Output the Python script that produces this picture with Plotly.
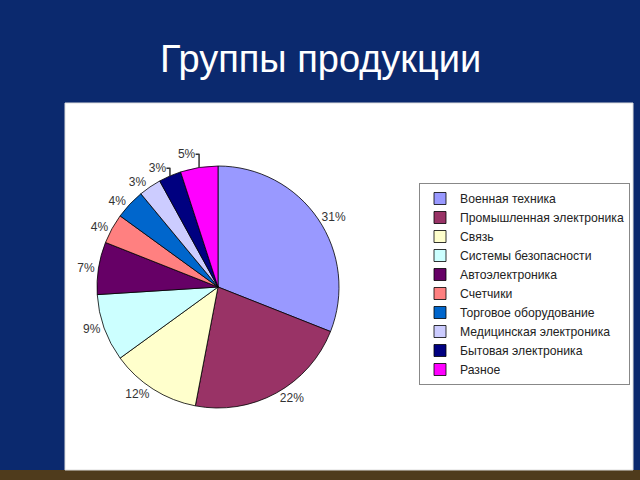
import plotly.graph_objects as go

categories = ["Военная техника", "Промышленная электроника", "Связь", "Системы безопасности",
              "Автоэлектроника", "Счетчики", "Торговое оборудование", "Медицинская электроника",
              "Бытовая электроника", "Разное"]
values = [31, 22, 12, 9, 7, 4, 4, 3, 3, 5]
colors = ["#9999FF", "#993366", "#FFFFCC", "#CCFFFF", "#660066", "#FF8080", "#0066CC",
          "#CCCCFF", "#000080", "#FF00FF"]

W, H = 640, 480
cx, cy, r = 218, 287, 121

fig = go.Figure(go.Pie(
    labels=categories, values=values, sort=False, direction="clockwise", rotation=0,
    marker=dict(colors=colors, line=dict(color="#000000", width=0.8)),
    texttemplate="%{value}%", textposition="outside",
    textfont=dict(family="Liberation Sans, Arial, sans-serif", size=12, color="#333333"),
    domain=dict(x=[(cx - r) / W, (cx + r) / W], y=[(H - cy - r) / H, (H - cy + r) / H]),
    automargin=False,
))

fig.update_layout(
    width=W, height=H, margin=dict(l=0, r=0, t=0, b=0, autoexpand=False),
    paper_bgcolor="#0b296e", plot_bgcolor="#0b296e",
    showlegend=True,
    legend=dict(x=419 / W, y=1 - 183 / H, xanchor="left", yanchor="top",
                bgcolor="#FFFFFF", bordercolor="#888888", borderwidth=1,
                itemwidth=30,
                font=dict(family="Liberation Sans, Arial, sans-serif", size=12.2, color="#222222")),
    shapes=[
        dict(type="rect", xref="paper", yref="paper", x0=0, x1=1, y0=0, y1=10 / H,
             fillcolor="#4f3b1c", line=dict(width=0), layer="below"),
        dict(type="rect", xref="paper", yref="paper", x0=65 / W, x1=633 / W,
             y0=1 - 470 / H, y1=1 - 103 / H, fillcolor="#FFFFFF",
             line=dict(color="#DDDDDD", width=1), layer="below"),
    ],
    annotations=[
        dict(text="Группы продукции", xref="paper", yref="paper", x=0.5, y=1 - 59 / H,
             xanchor="center", yanchor="middle", showarrow=False,
             font=dict(family="Liberation Sans, Arial, sans-serif", size=38, color="#FFFFFF")),
    ],
)

fig.write_html("out.html")
